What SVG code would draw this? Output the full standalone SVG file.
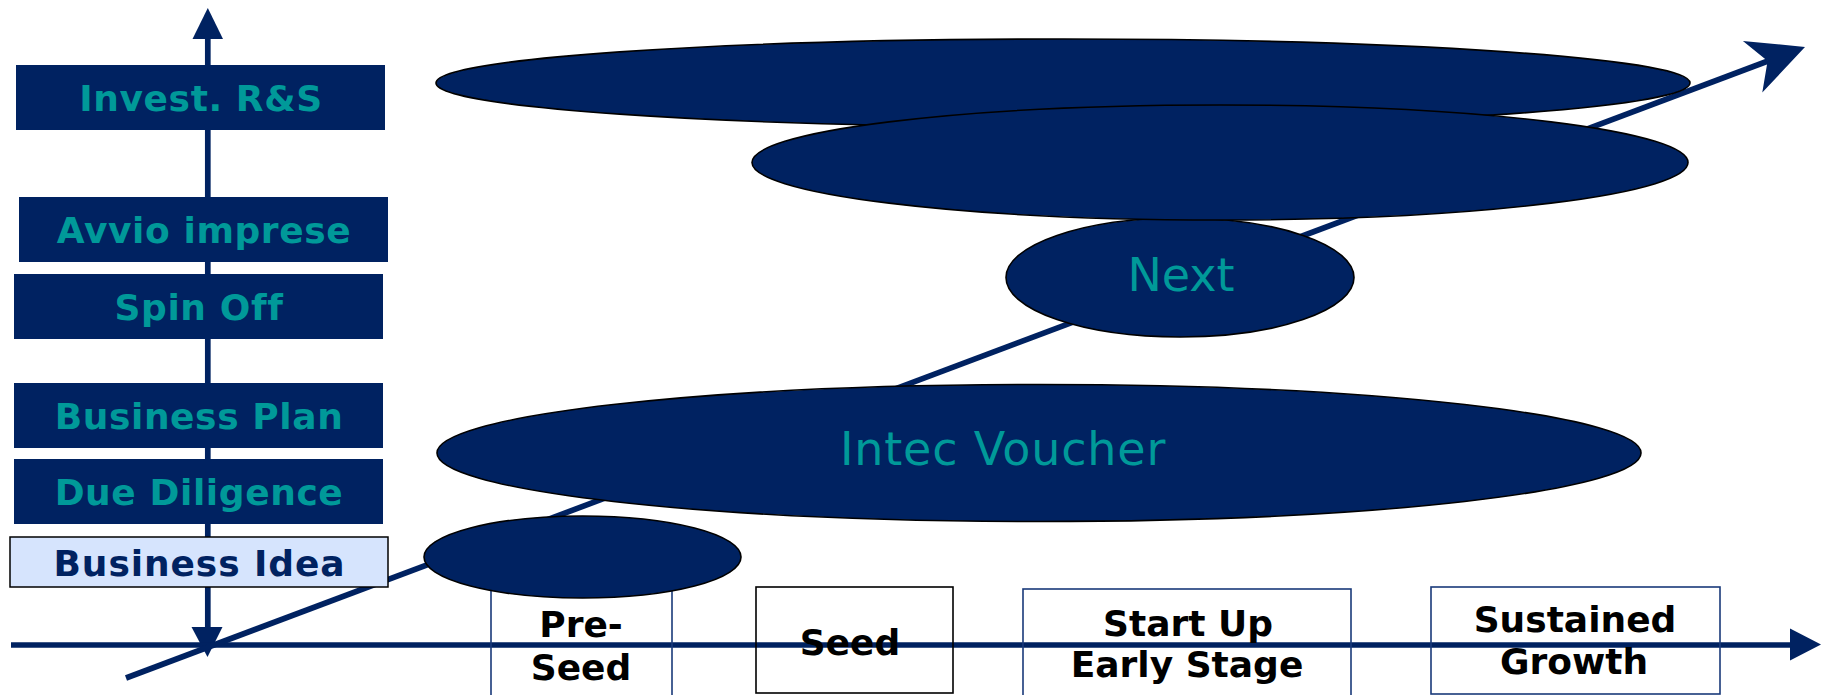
<svg xmlns="http://www.w3.org/2000/svg" width="1827" height="695" viewBox="0 0 1827 695">
<style>
.bg{fill:#ffffff}
.ax{stroke:#002261;stroke-width:5.7;fill:none}
.head{fill:#002261}
.lbox{fill:#002261}
.ltxt{font-family:"DejaVu Sans",Verdana,sans-serif;font-weight:bold;font-size:36px;fill:#009999;text-anchor:middle;letter-spacing:0.6px}
.idea{fill:#D6E4FD;stroke:#000000;stroke-width:1.5}
.ideatxt{font-family:"DejaVu Sans",Verdana,sans-serif;font-weight:bold;font-size:36px;fill:#002261;text-anchor:middle}
.sbox{fill:none;stroke:#1A3A7A;stroke-width:1.6}
.sboxk{fill:none;stroke:#000000;stroke-width:1.6}
.stxt{font-family:"DejaVu Sans",Verdana,sans-serif;font-weight:bold;font-size:36px;fill:#000000;text-anchor:middle}
.ell{fill:#002261;stroke:#000000;stroke-width:1.6}
.etxt{font-family:"DejaVu Sans",Verdana,sans-serif;font-size:46px;fill:#009999;text-anchor:middle}
</style>
<rect class="bg" x="0" y="0" width="1827" height="695"/>
<g id="connectors">
  <line class="ax" x1="207.8" y1="36" x2="207.8" y2="630"/>
  <polygon class="head" points="207.8,8 192.5,39 223,39"/>
  <polygon class="head" points="207.5,657 191.5,627 222.5,627"/>
  <line class="ax" x1="11" y1="645" x2="1792" y2="645"/>
  <polygon class="head" points="1821,644.5 1790,628.5 1790,660.5"/>
  <line class="ax" stroke-width="6.5" x1="126" y1="678" x2="1768" y2="61"/>
  <polygon class="head" points="1805,47 1742.9,40.9 1767.6,61.1 1762.3,92.5"/>
</g>
<g id="invest">
  <rect class="lbox" x="16" y="65" width="369" height="65"/>
  <text class="ltxt" x="201" y="111">Invest. R&amp;S</text>
</g>
<g id="avvio">
  <rect class="lbox" x="19" y="197" width="369" height="65"/>
  <text class="ltxt" x="204" y="243">Avvio imprese</text>
</g>
<g id="spinoff">
  <rect class="lbox" x="14" y="274" width="369" height="65"/>
  <text class="ltxt" x="199" y="320">Spin Off</text>
</g>
<g id="bplan">
  <rect class="lbox" x="14" y="383" width="369" height="65"/>
  <text class="ltxt" x="199" y="429">Business Plan</text>
</g>
<g id="duediligence">
  <rect class="lbox" x="14" y="459" width="369" height="65"/>
  <text class="ltxt" x="199" y="505">Due Diligence</text>
</g>
<g id="bidea">
  <rect class="idea" x="10" y="537" width="378" height="50"/>
  <text class="ideatxt" x="199" y="576" textLength="291" lengthAdjust="spacing">Business Idea</text>
</g>
<g id="preseed">
  <rect class="sbox" x="491" y="588" width="181" height="120"/>
  <text class="stxt" x="581" y="637">Pre-</text>
  <text class="stxt" x="581" y="680">Seed</text>
</g>
<g id="seed">
  <rect class="sboxk" x="756" y="587" width="197" height="106"/>
  <text class="stxt" x="850" y="655">Seed</text>
</g>
<g id="startup">
  <rect class="sbox" x="1023" y="589" width="328" height="120"/>
  <text class="stxt" x="1188" y="636">Start Up</text>
  <text class="stxt" x="1187" y="677">Early Stage</text>
</g>
<g id="sustained">
  <rect class="sbox" x="1431" y="587" width="289" height="107"/>
  <text class="stxt" x="1575" y="632">Sustained</text>
  <text class="stxt" x="1574" y="674">Growth</text>
</g>
<g id="ellipse-top">
  <ellipse class="ell" cx="1063" cy="83" rx="627" ry="44"/>
</g>
<g id="next">
  <ellipse class="ell" cx="1180" cy="277.5" rx="174" ry="59.5"/>
  <text class="etxt" x="1181" y="291">Next</text>
</g>
<g id="ellipse-second">
  <ellipse class="ell" cx="1220" cy="162.5" rx="468" ry="57.5"/>
</g>
<g id="intec">
  <ellipse class="ell" cx="1039" cy="453" rx="602" ry="68.5"/>
  <text class="etxt" x="1003" y="465" letter-spacing="0.8">Intec Voucher</text>
</g>
<g id="ellipse-small">
  <ellipse class="ell" cx="582.5" cy="557" rx="158.5" ry="41"/>
</g>
</svg>
